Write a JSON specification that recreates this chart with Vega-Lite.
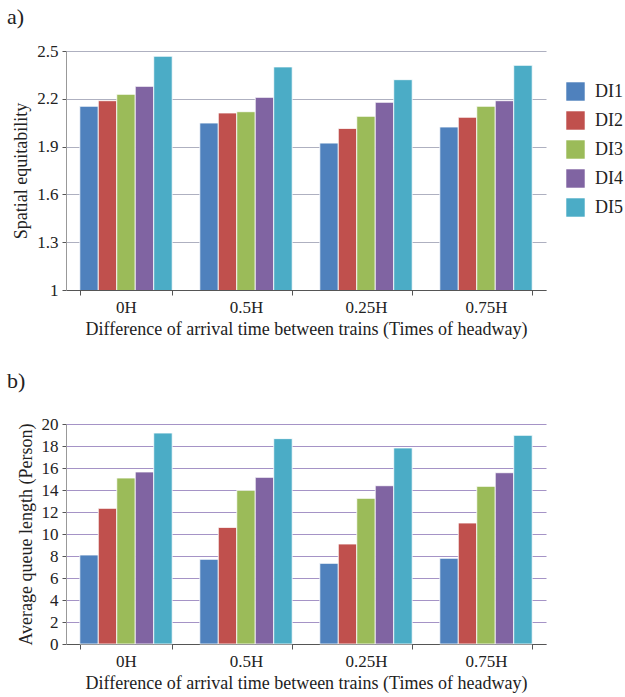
{
  "$schema": "https://vega.github.io/schema/vega-lite/v6.json",
  "padding": {"left": 7, "top": 6, "right": 5, "bottom": 5},
  "background": "white",
  "config": {
    "font": "Liberation Serif",
    "view": {"stroke": null},
    "title": {"font": "Liberation Serif", "fontSize": 22, "fontWeight": "normal", "anchor": "start", "frame": "group", "dx": -59, "color": "#222"},
    "axis": {"labelFont": "Liberation Serif", "titleFont": "Liberation Serif", "labelFontSize": 17, "titleFontSize": 18, "titleFontWeight": "normal", "labelColor": "#222", "titleColor": "#222"}
  },
  "spacing": 32,
  "resolve": {"legend": {"color": "independent"}},
  "datasets": {
    "a": [
      {"diff": "0H", "series": "DI1", "value": 2.153},
      {"diff": "0H", "series": "DI2", "value": 2.188},
      {"diff": "0H", "series": "DI3", "value": 2.228},
      {"diff": "0H", "series": "DI4", "value": 2.278},
      {"diff": "0H", "series": "DI5", "value": 2.467},
      {"diff": "0.5H", "series": "DI1", "value": 2.048},
      {"diff": "0.5H", "series": "DI2", "value": 2.111},
      {"diff": "0.5H", "series": "DI3", "value": 2.119},
      {"diff": "0.5H", "series": "DI4", "value": 2.209},
      {"diff": "0.5H", "series": "DI5", "value": 2.40},
      {"diff": "0.25H", "series": "DI1", "value": 1.922},
      {"diff": "0.25H", "series": "DI2", "value": 2.014},
      {"diff": "0.25H", "series": "DI3", "value": 2.09},
      {"diff": "0.25H", "series": "DI4", "value": 2.178},
      {"diff": "0.25H", "series": "DI5", "value": 2.32},
      {"diff": "0.75H", "series": "DI1", "value": 2.023},
      {"diff": "0.75H", "series": "DI2", "value": 2.084},
      {"diff": "0.75H", "series": "DI3", "value": 2.153},
      {"diff": "0.75H", "series": "DI4", "value": 2.188},
      {"diff": "0.75H", "series": "DI5", "value": 2.41}
    ],
    "b": [
      {"diff": "0H", "series": "DI1", "value": 8.09},
      {"diff": "0H", "series": "DI2", "value": 12.33},
      {"diff": "0H", "series": "DI3", "value": 15.09},
      {"diff": "0H", "series": "DI4", "value": 15.64},
      {"diff": "0H", "series": "DI5", "value": 19.18},
      {"diff": "0.5H", "series": "DI1", "value": 7.7},
      {"diff": "0.5H", "series": "DI2", "value": 10.6},
      {"diff": "0.5H", "series": "DI3", "value": 13.97},
      {"diff": "0.5H", "series": "DI4", "value": 15.15},
      {"diff": "0.5H", "series": "DI5", "value": 18.67},
      {"diff": "0.25H", "series": "DI1", "value": 7.33},
      {"diff": "0.25H", "series": "DI2", "value": 9.09},
      {"diff": "0.25H", "series": "DI3", "value": 13.24},
      {"diff": "0.25H", "series": "DI4", "value": 14.39},
      {"diff": "0.25H", "series": "DI5", "value": 17.82},
      {"diff": "0.75H", "series": "DI1", "value": 7.79},
      {"diff": "0.75H", "series": "DI2", "value": 11.0},
      {"diff": "0.75H", "series": "DI3", "value": 14.33},
      {"diff": "0.75H", "series": "DI4", "value": 15.57},
      {"diff": "0.75H", "series": "DI5", "value": 18.97}
    ]
  },
  "vconcat": [
    {
      "title": {"text": "a)", "offset": 13},
      "width": 480,
      "height": 239,
      "data": {"name": "a"},
      "mark": {"type": "bar", "stroke": "white", "strokeWidth": 0.8, "clip": true},
      "encoding": {
        "x": {
          "field": "diff", "type": "nominal", "sort": ["0H", "0.5H", "0.25H", "0.75H"],
          "scale": {"paddingInner": 0.23, "paddingOuter": 0.115},
          "axis": {"title": "Difference of arrival time between trains (Times of headway)", "labelAngle": 0, "domainColor": "#555", "tickColor": "#555", "tickBand": "extent", "tickSize": 5, "labelPadding": 4, "titlePadding": 5}
        },
        "xOffset": {"field": "series", "type": "nominal", "sort": ["DI1", "DI2", "DI3", "DI4", "DI5"], "scale": {"paddingInner": 0, "paddingOuter": 0}},
        "y": {
          "field": "value", "type": "quantitative",
          "scale": {"domain": [1, 2.5], "nice": false, "zero": false},
          "axis": {"title": "Spatial equitability", "values": [1, 1.3, 1.6, 1.9, 2.2, 2.5], "format": "~g", "gridColor": "#aeb0c0", "gridWidth": 1.2, "domainColor": "#999", "tickColor": "#555", "tickSize": 4, "labelPadding": 4, "titlePadding": 6}
        },
        "color": {
          "field": "series", "type": "nominal",
          "scale": {"domain": ["DI1", "DI2", "DI3", "DI4", "DI5"], "range": ["#4F81BD", "#C0504D", "#9BBB59", "#8064A2", "#4BACC6"]},
          "legend": {"title": null, "orient": "none", "legendX": 500, "legendY": 31, "symbolType": "square", "symbolSize": 340, "symbolStrokeWidth": 0, "symbolOpacity": 1, "labelFontSize": 18, "labelFont": "Liberation Serif", "labelColor": "#222", "rowPadding": 10, "labelOffset": 10}
        }
      }
    },
    {
      "title": {"text": "b)", "offset": 22},
      "width": 480,
      "height": 220,
      "data": {"name": "b"},
      "mark": {"type": "bar", "stroke": "white", "strokeWidth": 0.8},
      "encoding": {
        "x": {
          "field": "diff", "type": "nominal", "sort": ["0H", "0.5H", "0.25H", "0.75H"],
          "scale": {"paddingInner": 0.23, "paddingOuter": 0.115},
          "axis": {"title": "Difference of arrival time between trains (Times of headway)", "labelAngle": 0, "domainColor": "#555", "tickColor": "#555", "tickBand": "extent", "tickSize": 5, "labelPadding": 4, "titlePadding": 5}
        },
        "xOffset": {"field": "series", "type": "nominal", "sort": ["DI1", "DI2", "DI3", "DI4", "DI5"], "scale": {"paddingInner": 0, "paddingOuter": 0}},
        "y": {
          "field": "value", "type": "quantitative",
          "scale": {"domain": [0, 20], "nice": false},
          "axis": {"title": "Average queue length (Person)", "values": [0, 2, 4, 6, 8, 10, 12, 14, 16, 18, 20], "gridColor": "#a593c6", "gridWidth": 1.2, "domainColor": "#999", "tickColor": "#555", "tickSize": 4, "labelPadding": 4, "titlePadding": 6}
        },
        "color": {
          "field": "series", "type": "nominal",
          "scale": {"domain": ["DI1", "DI2", "DI3", "DI4", "DI5"], "range": ["#4F81BD", "#C0504D", "#9BBB59", "#8064A2", "#4BACC6"]},
          "legend": null
        }
      }
    }
  ]
}
